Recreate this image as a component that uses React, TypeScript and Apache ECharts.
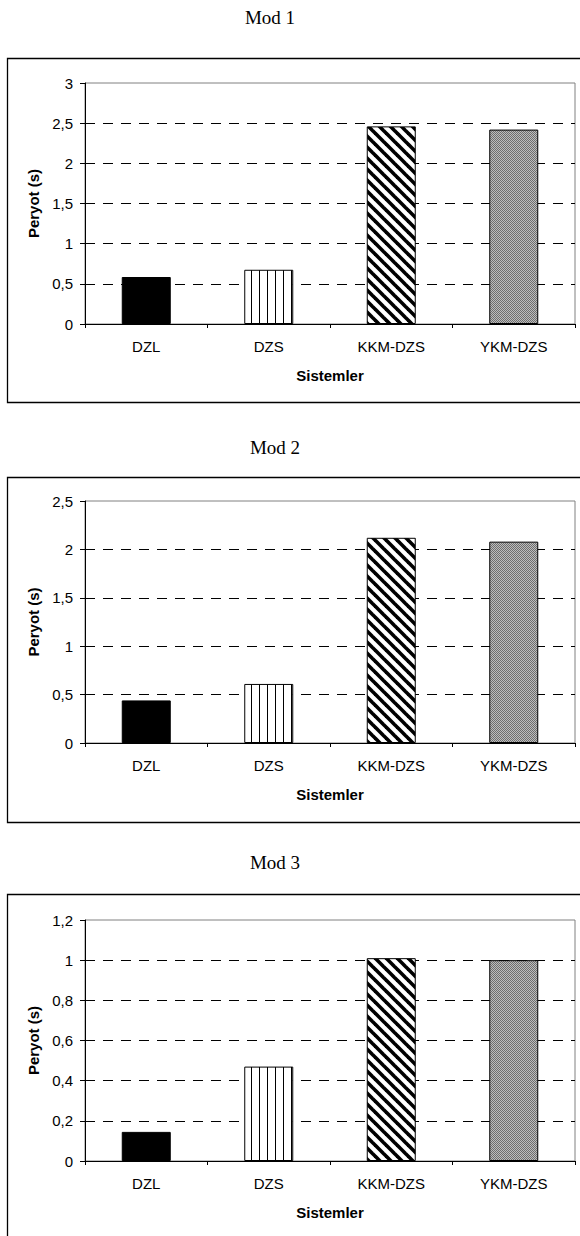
import React, { useEffect, useRef } from 'react';
import * as echarts from 'echarts';

const categories = ['DZL', 'DZS', 'KKM-DZS', 'YKM-DZS'];
const mod1Values = [0.585, 0.675, 2.46, 2.42];
const mod2Values = [0.44, 0.61, 2.12, 2.08];
const mod3Values = [0.145, 0.47, 1.01, 1.0];
const panelTitles = ['Mod 1', 'Mod 2', 'Mod 3'];
const yMaxes = [3, 2.5, 1.2];
const yIntervals = [0.5, 0.5, 0.2];
const xAxisName = 'Sistemler';
const yAxisName = 'Peryot (s)';

const SANS = '"Liberation Sans", Arial, sans-serif';
const SERIF = '"Liberation Serif", "Times New Roman", serif';

function makeCanvas(w: number, h: number, draw: (ctx: CanvasRenderingContext2D) => void) {
  const c = document.createElement('canvas');
  c.width = w;
  c.height = h;
  const ctx = c.getContext('2d') as CanvasRenderingContext2D;
  draw(ctx);
  return c;
}

function makeFills() {
  const vertical = makeCanvas(8, 8, (ctx) => {
    ctx.fillStyle = '#fff';
    ctx.fillRect(0, 0, 8, 8);
    ctx.fillStyle = '#000';
    ctx.fillRect(3, 0, 1, 8);
  });
  const s = 11;
  const diag = makeCanvas(s, s, (ctx) => {
    ctx.fillStyle = '#fff';
    ctx.fillRect(0, 0, s, s);
    ctx.strokeStyle = '#000';
    ctx.lineWidth = 3.6;
    for (const k of [-s, 0, s]) {
      ctx.beginPath();
      ctx.moveTo(k - 3, -3);
      ctx.lineTo(k + s + 3, s + 3);
      ctx.stroke();
    }
  });
  const gray = makeCanvas(2, 2, (ctx) => {
    ctx.fillStyle = '#6e6e6e';
    ctx.fillRect(0, 0, 1, 1);
    ctx.fillRect(1, 1, 1, 1);
    ctx.fillStyle = '#bdbdbd';
    ctx.fillRect(1, 0, 1, 1);
    ctx.fillRect(0, 1, 1, 1);
  });
  return [
    '#000000',
    { image: vertical, repeat: 'repeat', imageWidth: 8, imageHeight: 8 },
    { image: diag, repeat: 'repeat', imageWidth: s, imageHeight: s },
    { image: gray, repeat: 'repeat', imageWidth: 2, imageHeight: 2 },
  ];
}

export default function App() {
  const ref = useRef<HTMLDivElement>(null);

  useEffect(() => {
    if (!ref.current) return;
    const chart = echarts.init(ref.current, null, { renderer: 'svg' });
    const fills = makeFills();
    const allValues = [mod1Values, mod2Values, mod3Values];

    // layout of the three panels (page coordinates)
    const gridTops = [83, 501, 920];
    const gridHeights = [241, 242, 241];
    const boxTops = [58, 477, 894];
    const boxHeights = [344, 345, 400];
    const titleTops = [8, 438, 853];
    const titleXs = [270, 275, 275];

    const fmt = (v: number) => String(Math.round(v * 10) / 10).replace('.', ',');

    const option: any = {
      animation: false,
      backgroundColor: '#ffffff',
      title: panelTitles.map((t, i) => ({
        text: t,
        left: titleXs[i],
        top: titleTops[i],
        textAlign: 'center',
        padding: 0,
        textStyle: { fontFamily: SERIF, fontSize: 19, fontWeight: 'normal', color: '#000' },
      })),
      graphic: boxTops.map((y, i) => ({
        type: 'rect',
        silent: true,
        z: -1,
        shape: { x: 7.5, y: y + 0.5, width: 640, height: boxHeights[i] },
        style: { fill: 'none', stroke: '#000', lineWidth: 1.3 },
      })),
      grid: gridTops.map((top, i) => ({
        left: 85,
        top,
        width: 490,
        height: gridHeights[i],
        show: true,
        borderColor: '#808080',
        borderWidth: 1,
        backgroundColor: 'transparent',
        containLabel: false,
        outerBoundsMode: 'none',
      })),
      xAxis: gridTops.map((_, i) => ({
        type: 'category',
        gridIndex: i,
        data: categories,
        name: xAxisName,
        nameLocation: 'middle',
        nameGap: 44,
        nameTextStyle: { fontFamily: SANS, fontSize: 15, fontWeight: 'bold', color: '#000' },
        axisLine: { show: true, lineStyle: { color: '#000', width: 1 } },
        axisTick: { show: true, length: 4, lineStyle: { color: '#000' } },
        axisLabel: { margin: 15, fontFamily: SANS, fontSize: 15, color: '#000' },
        splitLine: { show: false },
      })),
      yAxis: gridTops.map((_, i) => ({
        type: 'value',
        gridIndex: i,
        min: 0,
        max: yMaxes[i],
        interval: yIntervals[i],
        name: yAxisName,
        nameLocation: 'middle',
        nameGap: 42,
        nameTextStyle: { fontFamily: SANS, fontSize: 15, fontWeight: 'bold', color: '#000' },
        axisLine: { show: true, lineStyle: { color: '#000', width: 1 } },
        axisTick: { show: true, length: 5, lineStyle: { color: '#000' } },
        axisLabel: { margin: 12, fontFamily: SANS, fontSize: 15, color: '#000', formatter: fmt },
        splitLine: {
          show: true,
          showMinLine: false,
          showMaxLine: false,
          lineStyle: { color: '#000', type: [10, 8], width: 1 },
        },
      })),
      series: allValues.map((vals, i) => ({
        type: 'bar',
        xAxisIndex: i,
        yAxisIndex: i,
        barWidth: 49,
        itemStyle: { borderColor: '#000', borderWidth: 1 },
        data: vals.map((v, j) => ({ value: v, itemStyle: { color: fills[j] } })),
      })),
    };

    chart.setOption(option);
    return () => chart.dispose();
  }, []);

  return (
    <div
      ref={ref}
      style={{ position: 'absolute', left: 0, top: 0, width: 580, height: 1236, background: '#fff' }}
    />
  );
}
